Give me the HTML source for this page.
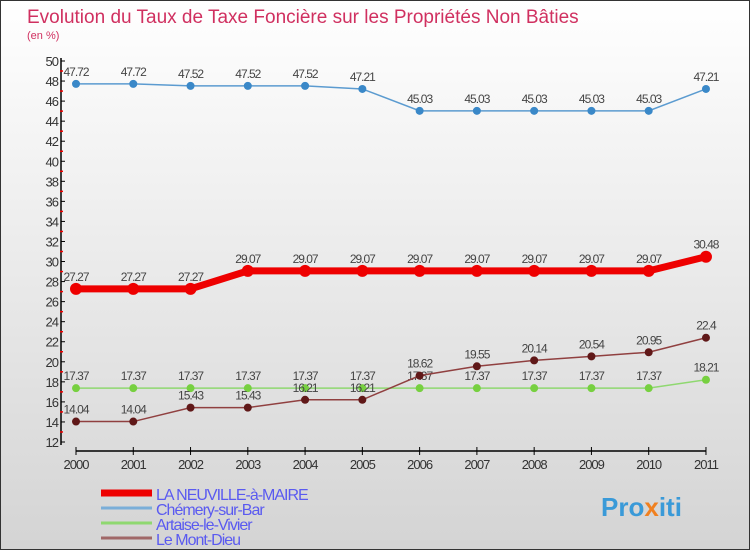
<!DOCTYPE html>
<html><head><meta charset="utf-8"><style>
body{margin:0;width:750px;height:550px;overflow:hidden;font-family:"Liberation Sans",sans-serif}
#c{position:absolute;left:0;top:0;width:748px;height:548px;border:1px solid #333;background:linear-gradient(#ffffff,#d4d4d4)}
</style></head><body>
<div id="c">
<svg id="s" width="750" height="550" xmlns="http://www.w3.org/2000/svg">
<text x="26" y="22" font-size="19" fill="#d03060">Evolution du Taux de Taxe Foncière sur les Propriétés Non Bâties</text>
<text x="26" y="38" font-size="11" fill="#d03060">(en %)</text>
<g id="g"></g>
<text x="600" y="515" font-size="26" font-weight="bold" fill="#3a9ad8">Pro<tspan fill="#f08020">x</tspan>iti</text>
</svg></div>
<script>
const years=[2000,2001,2002,2003,2004,2005,2006,2007,2008,2009,2010,2011];
const yTicks=[12,14,16,18,20,22,24,26,28,30,32,34,36,38,40,42,44,46,48,50];
const sNeuville=[27.27,27.27,27.27,29.07,29.07,29.07,29.07,29.07,29.07,29.07,29.07,30.48];
const sChemery=[47.72,47.72,47.52,47.52,47.52,47.21,45.03,45.03,45.03,45.03,45.03,47.21];
const sArtaise=[17.37,17.37,17.37,17.37,17.37,17.37,17.37,17.37,17.37,17.37,17.37,18.21];
const sMont=[14.04,14.04,15.43,15.43,16.21,16.21,18.62,19.55,20.14,20.54,20.95,22.4];
const names=["LA NEUVILLE-à-MAIRE","Chémery-sur-Bar","Artaise-le-Vivier","Le Mont-Dieu"];
const NS="http://www.w3.org/2000/svg",g=document.getElementById('g');
const X=i=>75+i*57.27, Y=v=>441-(v-12)*(381/38);
function el(t,a){const e=document.createElementNS(NS,t);for(const k in a)e.setAttribute(k,a[k]);g.appendChild(e);return e;}
let e=el('line',{x1:60,y1:57,x2:60,y2:444,stroke:'#000','stroke-width':1.5});

e=el('line',{x1:75,y1:450,x2:705,y2:450,stroke:'#000','stroke-width':1.5});

yTicks.forEach(v=>{const y=Y(v);
 el('line',{x1:60,y1:y,x2:64,y2:y,stroke:'#000'});
 if(v<50){const m=Y(v+1);el('line',{x1:59,y1:m,x2:62,y2:m,stroke:'#e00','stroke-width':1.5});}
 const t=el('text',{x:57,y:y+5,'font-size':13,'text-anchor':'end',fill:'#333','letter-spacing':'-1'});t.textContent=v;
 });
years.forEach((yr,i)=>{const x=X(i);
 el('line',{x1:x,y1:446,x2:x,y2:454,stroke:'#000'});
 const t=el('text',{x:x,y:468,'font-size':13,'text-anchor':'middle',fill:'#333','letter-spacing':'-1'});t.textContent=yr;
 });
const series=[[sChemery,'#5b9bd0','#3a88c8',1.5,4,'chemery'],[sArtaise,'#8fd870','#77d040',1.5,4,'artaise'],[sMont,'#904040','#601818',1.5,4,'mont-dieu'],[sNeuville,'#ee0000','#ee0000',7,6,'neuville']];
series.forEach(([d,lc,pc,w,r,n])=>{
 const p=el('polyline',{points:d.map((v,i)=>X(i)+','+Y(v)).join(' '),fill:'none',stroke:lc,'stroke-width':w});
 
 d.forEach((v,i)=>{const c=el('circle',{cx:X(i),cy:Y(v),r:r,fill:pc});
  
  const t=el('text',{x:X(i),y:Y(v)-8,'font-size':12,'text-anchor':'middle',fill:'#444','letter-spacing':'-1'});t.textContent=v;
  });});
const lcols=['#ee0000','#7aaed8','#8fd870','#a06868'],lw=[7,3,3,3];
names.forEach((nm,i)=>{const y=492+i*15;
 const l=el('line',{x1:100,y1:y,x2:151,y2:y,stroke:lcols[i],'stroke-width':lw[i]});
 
 const t=el('text',{x:155,y:y+7,'font-size':16,fill:'#5a5af0','letter-spacing':'-1'});t.textContent=nm;
 });
</script>
</body></html>
